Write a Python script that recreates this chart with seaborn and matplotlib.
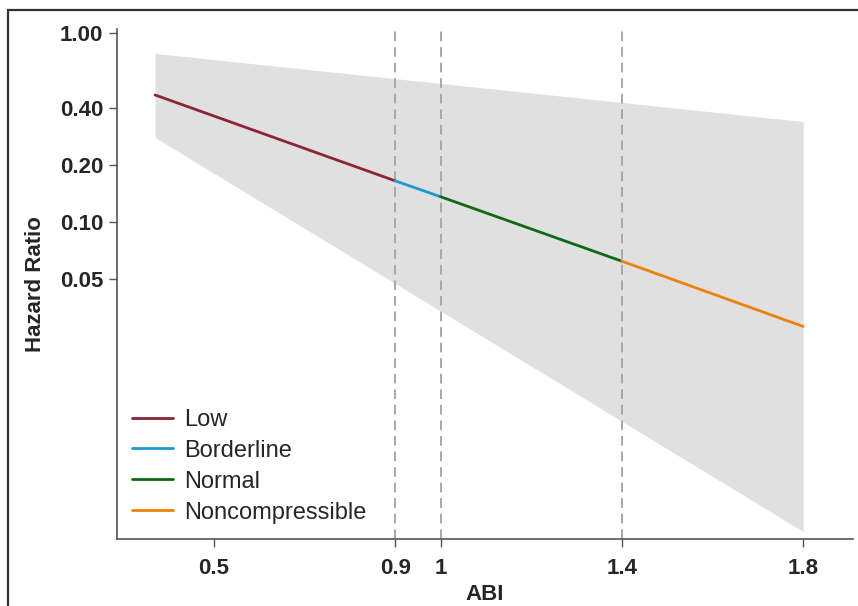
import numpy as np
import pandas as pd
import matplotlib.pyplot as plt
import seaborn as sns
from matplotlib.patches import Rectangle

# fitted hazard ratio at the ABI category cut points
abi_points = [0.37, 0.9, 1.0, 1.4, 1.8]
hr_points = [0.47, 0.165, 0.136, 0.062, 0.028]
groups = ['Low', 'Borderline', 'Normal', 'Noncompressible']
colors = ['#8B2535', '#1B9AD2', '#0E6A12', '#EE8208']

# 95% confidence band (ends of the range)
ci_abi = [0.37, 1.8]
ci_lower = [0.28, 0.0023]
ci_upper = [0.78, 0.34]

cutoffs = [0.9, 1.0, 1.4]
xticks = [0.5, 0.9, 1.0, 1.4, 1.8]
xtick_labels = ['0.5', '0.9', '1', '1.4', '1.8']
yticks = [0.05, 0.10, 0.20, 0.40, 1.00]
ytick_labels = ['0.05', '0.10', '0.20', '0.40', '1.00']

sns.set_style('white')
plt.rcParams['font.family'] = ['Liberation Sans', 'DejaVu Sans']

rows = []
for i, g in enumerate(groups):
    rows.append({'ABI': abi_points[i], 'HR': hr_points[i], 'group': g})
    rows.append({'ABI': abi_points[i + 1], 'HR': hr_points[i + 1], 'group': g})
df = pd.DataFrame(rows)

fig = plt.figure(figsize=(8.58, 6.06), dpi=100)
ax = fig.add_axes([117 / 858, 1 - 539 / 606, 736 / 858, 510 / 606])

ax.fill_between(ci_abi, ci_lower, ci_upper, color='#E0E0E0', linewidth=0, zorder=1)
for c in cutoffs:
    ax.axvline(c, color='#A8A8A8', linestyle=(0, (5, 3)), linewidth=1.4, zorder=2)

sns.lineplot(data=df, x='ABI', y='HR', hue='group', hue_order=groups,
             palette=dict(zip(groups, colors)), estimator=None, sort=False,
             linewidth=2.0, ax=ax, zorder=3)

ax.set_yscale('log')
ax.set_xlim(0.286, 1.91)
ax.set_ylim(0.0021, 1.05)
ax.set_xticks(xticks)
ax.set_xticklabels(xtick_labels)
ax.set_yticks(yticks)
ax.set_yticklabels(ytick_labels)
ax.minorticks_off()
ax.yaxis.set_minor_locator(plt.NullLocator())

for lab in ax.get_xticklabels() + ax.get_yticklabels():
    lab.set_fontweight('bold')
    lab.set_fontsize(16)
ax.tick_params(axis='both', which='major', direction='out', length=6, width=1,
               color='#555555', left=True, bottom=True)
ax.tick_params(axis='x', pad=8)
ax.tick_params(axis='y', pad=4)

ax.set_xlabel('ABI', fontsize=16, fontweight='bold', labelpad=3)
ax.set_ylabel('Hazard Ratio', fontsize=16, fontweight='bold', labelpad=10)

sns.despine(ax=ax)
for s in ['left', 'bottom']:
    ax.spines[s].set_color('#555555')
    ax.spines[s].set_linewidth(1.2)

leg = ax.legend(loc='lower left', bbox_to_anchor=(0.021, 0.03), frameon=False,
                fontsize=17, handlelength=1.7, handletextpad=0.5,
                labelspacing=0.38, borderpad=0, borderaxespad=0)
for line in leg.get_lines():
    line.set_linewidth(2.0)

fig.patches.append(Rectangle((8 / 858, -0.05), 1.0, 1 - 10 / 606 + 0.05,
                             transform=fig.transFigure, fill=False,
                             edgecolor='#333333', linewidth=1.6))

fig.savefig('out.png', dpi=100)
